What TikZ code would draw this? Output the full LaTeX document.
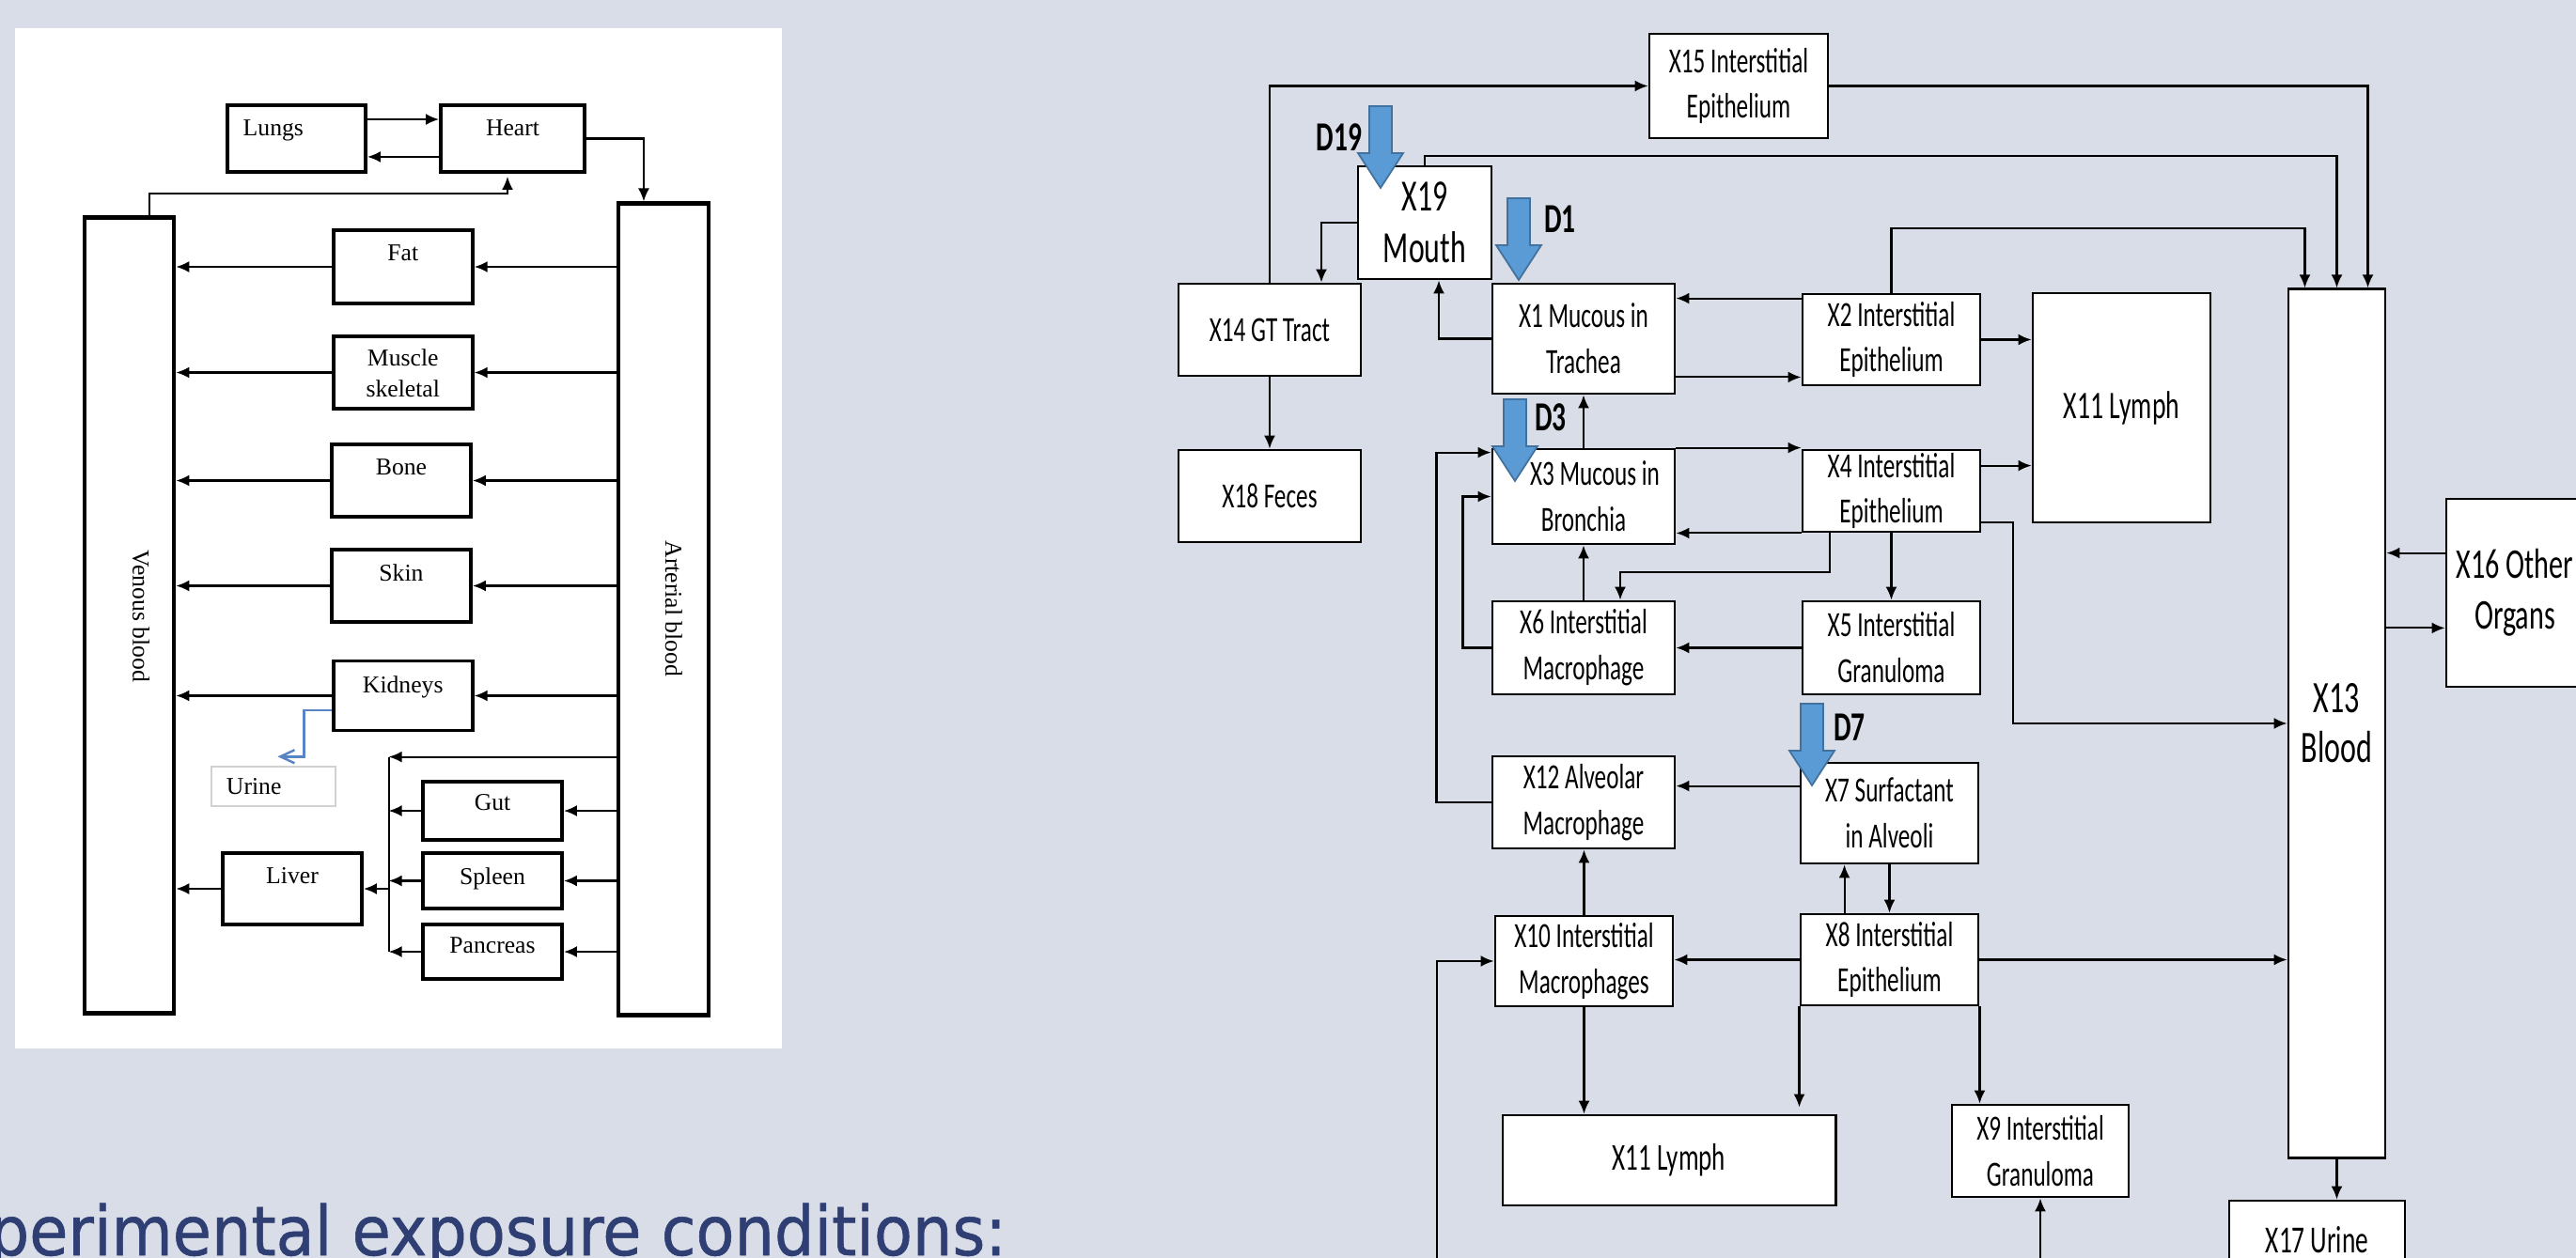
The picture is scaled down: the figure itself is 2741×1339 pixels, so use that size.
\documentclass[tikz,border=0pt]{standalone}
\usepackage{fontspec}
\usepackage{tikz}
\usetikzlibrary{arrows.meta,positioning}
\newfontfamily\boxfont[FakeStretch=0.67]{Carlito}
\newfontfamily\orgfont{Liberation Serif}
\newfontfamily\titlefont[FakeStretch=0.92,FakeBold=0.8]{DejaVu Sans}
\definecolor{slide}{RGB}{216,221,231}
\definecolor{dosefill}{RGB}{91,155,213}
\definecolor{doseline}{RGB}{65,113,156}
\definecolor{urineblue}{RGB}{88,132,196}
\definecolor{titleblue}{RGB}{47,63,115}

\begin{document}
\begin{tikzpicture}[x=0.01cm,y=-0.01cm]
\tikzstyle{comp}=[draw, fill=white, line width=0.8pt, inner sep=0pt, align=center, font=\boxfont\fontsize{10.7}{13.9}\selectfont]
\tikzstyle{organ}=[draw, fill=white, line width=1.1pt, minimum width=1.48cm, minimum height=0.77cm]
\tikzstyle{lbl}=[anchor=north, inner sep=0pt, yshift=-1.7mm, align=center, font=\orgfont\fontsize{7.3}{9.3}\selectfont]
\tikzstyle{arr}=[-{Latex[length=1.4mm,width=1.2mm]}, line width=0.6pt]
\tikzstyle{dose}=[fill=dosefill, draw=doseline, line width=0.5pt]
\tikzstyle{dlabel}=[inner sep=0pt, font=\boxfont\bfseries\fontsize{12.5}{14}\selectfont]

\fill[slide] (0,0) rectangle (2741,1339);
\useasboundingbox (0,0) rectangle (2741,1339);
\clip (0,0) rectangle (2741,1339);

% whole body model
\fill[white] (16,30) rectangle (832,1116);
\node[organ, minimum width=1.47cm, minimum height=0.71cm, label={[lbl, anchor=north west, xshift=1.8mm]north west:Lungs}] (lungs) at (315.5,147.5) {};
\node[organ, minimum width=1.53cm, minimum height=0.71cm, label={[lbl]north:Heart}] (heart) at (545.5,147.5) {};
\node[organ, minimum width=0.95cm, minimum height=8.46cm, line width=1.3pt] (ven) at (137.5,655) {};
\node[organ, minimum width=0.96cm, minimum height=8.63cm, line width=1.3pt] (art) at (706,648.5) {};
\node[rotate=-90, inner sep=0pt, font=\orgfont\fontsize{7.3}{9}\selectfont] (vent) at (150,656) {Venous blood};
\node[rotate=-90, inner sep=0pt, font=\orgfont\fontsize{7.3}{9}\selectfont] (artt) at (717,648) {Arterial blood};

\node[organ, minimum height=0.78cm, label={[lbl]north:Fat}] (fat) at (428.75,284) {};
\node[organ, label={[lbl, yshift=0.2mm]north:Muscle\\skeletal}] (muscle) at (428.75,396.5) {};
\node[organ, label={[lbl]north:Bone}] (bone) at (427,511.5) {};
\node[organ, label={[lbl]north:Skin}] (skin) at (427,623.5) {};
\node[organ, minimum height=0.74cm, label={[lbl]north:Kidneys}] (kidneys) at (428.75,740.5) {};
\node[organ, minimum height=0.62cm, label={[lbl, yshift=0.2mm]north:Gut}] (gut) at (524,863) {};
\node[organ, minimum height=0.59cm, label={[lbl]north:Spleen}] (spleen) at (524,937.5) {};
\node[organ, minimum height=0.58cm, label={[lbl, yshift=0.2mm]north:Pancreas}] (pancreas) at (524,1013) {};
\node[organ, minimum height=0.76cm, label={[lbl]north:Liver}] (liver) at (311,946) {};
\node[draw=black!18, fill=white, line width=0.4pt, minimum width=1.32cm, minimum height=0.42cm, label={[anchor=west, inner sep=0pt, xshift=1.6mm, font=\orgfont\fontsize{7.3}{9}\selectfont]west:Urine}] (urine) at (291,837) {};

\draw[arr] ([yshift=-1.7mm]lungs.north east) -- ([yshift=-1.7mm]lungs.north east -| heart.west);
\draw[arr] ([yshift=1.8mm]heart.south west) -- ([yshift=1.8mm]heart.south west -| lungs.east);
\draw[arr] (heart.east) -| ([xshift=-2.1mm]art.north);
\draw[arr] ([xshift=2.15mm]ven.north) -- ++(0,-23.4) -| ([xshift=-0.55mm,yshift=-0.3mm]heart.south);
\foreach \o in {fat,muscle,bone,skin,kidneys}{
  \draw[arr] (\o.east -| art.west) -- (\o.east);
  \draw[arr] (\o.west) -- (\o.west -| ven.east);
}
\coordinate (bus) at (413.6,805.6);
\draw[line width=0.6pt] (bus) -- (bus |- pancreas.west);
\draw[arr] (bus -| art.west) -- (bus);
\foreach \o in {gut,spleen,pancreas}{
  \draw[arr] (\o.east -| art.west) -- (\o.east);
  \draw[arr] (\o.west) -- (\o.west -| bus);
}
\draw[arr] (liver.east -| bus) -- (liver.east);
\draw[arr] (liver.west) -- (liver.west -| ven.east);
\draw[urineblue, line width=0.7pt, -{Straight Barb[length=1.5mm,width=1.4mm]}] ([yshift=2.35mm]kidneys.south west) -- ++(-29.5,0) |- ([xshift=0.45mm,yshift=1mm]urine.north);

% lung model
\node[comp, minimum width=1.90cm, minimum height=1.11cm] (15) at (1850,91.5) {X15 Interstitial\\Epithelium};
\node[comp, minimum width=1.42cm, minimum height=1.20cm, font=\boxfont\fontsize{13.5}{15.7}\selectfont] (19) at (1516,237) {X19\\Mouth};
\node[comp, minimum width=1.94cm, minimum height=0.98cm] (14) at (1351,351) {X14 GT Tract};
\node[comp, minimum width=1.94cm, minimum height=0.98cm] (18) at (1351,528) {X18 Feces};
\node[comp, minimum width=1.94cm, minimum height=1.17cm] (1) at (1685,360.5) {X1 Mucous in\\Trachea};
\node[comp, minimum width=1.89cm, minimum height=0.97cm] (2) at (2012.5,361.5) {X2 Interstitial\\Epithelium};
\node[comp, minimum width=1.94cm, minimum height=1.01cm] (3) at (1685,528.5) {\hspace*{2.4mm}X3 Mucous in\\Bronchia};
\node[comp, minimum width=1.89cm, minimum height=0.87cm] (4) at (2012.5,522.5) {X4 Interstitial\\Epithelium};
\node[comp, minimum width=1.94cm, minimum height=0.99cm] (6) at (1685,689.5) {X6 Interstitial\\Macrophage};
\node[comp, minimum width=1.89cm, minimum height=0.99cm] (5) at (2012.5,689.5) {X5 Interstitial\\Granuloma};
\node[comp, minimum width=1.94cm, minimum height=0.98cm] (12) at (1685,854) {X12 Alveolar\\Macrophage};
\node[comp, minimum width=1.89cm, minimum height=1.07cm] (7) at (2010.5,865.5) {X7 Surfactant\\in Alveoli};
\node[comp, minimum width=1.89cm, minimum height=0.96cm] (10) at (1685.5,1023) {X10 Interstitial\\Macrophages};
\node[comp, minimum width=1.89cm, minimum height=0.97cm] (8) at (2010.5,1021.5) {X8 Interstitial\\Epithelium};
\node[comp, minimum width=3.54cm, minimum height=0.96cm, font=\boxfont\fontsize{11.5}{13.9}\selectfont] (11b) at (1776,1235) {X11 Lymph};
\node[comp, minimum width=1.88cm, minimum height=0.98cm] (9) at (2171,1225) {X9 Interstitial\\Granuloma};
\node[comp, minimum width=1.89cm, minimum height=2.44cm, font=\boxfont\fontsize{11.8}{13.9}\selectfont] (11) at (2257.5,434) {X11 Lymph};
\node[comp, minimum width=1.03cm, minimum height=9.24cm, font=\boxfont\fontsize{13.6}{15}\selectfont] (13) at (2486.5,770) {X13\\Blood};
\node[comp, minimum width=1.46cm, minimum height=2.00cm, font=\boxfont\fontsize{12.8}{15.4}\selectfont] (16) at (2676,631) {X16 Other\\Organs};
\node[comp, minimum width=1.87cm, minimum height=0.84cm, font=\boxfont\fontsize{11.6}{13.9}\selectfont] (17) at (2465.5,1320) {X17 Urine};

\draw[arr] (14.north) |- (15.west);
\draw[arr] (15.east) -| ([xshift=3.3mm]13.north);
\draw[arr] (19.north) -- ++(0,-10) -| (13.north);
\draw[arr] (2.north) -- ++(0,-69) -| ([xshift=-3.4mm]13.north);
\draw[arr] (19.west) -| ([xshift=5.5mm]14.north);
\draw[arr] (1.west) -| ([xshift=1.5mm]19.south);
\draw[arr] ([yshift=-0.6mm]2.north west) -- ([yshift=-0.6mm]2.north west -| 1.east);
\draw[arr] ([yshift=1.9mm]1.south east) -- ([yshift=1.9mm]1.south east -| 2.west);
\draw[arr] (14.south) -- (18.north);
\draw[arr] (3.north) -- (1.south);
\draw[arr] (3.north east) -- (3.north east -| 4.west);
\draw[arr] (4.south west) -- (4.south west -| 3.east);
\draw[arr] (2.east) -- (2.east -| 11.west);
\draw[arr] ([yshift=-1.8mm]4.north east) -- ([yshift=-1.8mm]4.north east -| 11.west);
\draw[arr] ([yshift=1.1mm]4.south east) -- ++(33.5,0) |- (13.west);
\draw[arr] (4.south) -- (5.north);
\draw[arr] ([xshift=3.06mm]4.south west) -- ++(0,41.4) -| ([xshift=3.9mm]6.north);
\draw[arr] (6.north) -- (3.south);
\draw[arr] (5.west) -- (6.east);
\draw[arr] (6.west) -- ++(-30,0) |- (3.west);
\draw[arr] (12.west) -- ++(-58,0) |- ([yshift=-0.5mm]3.north west);
\draw[arr] ([yshift=-2.6mm]7.north west) -- ([yshift=-2.6mm]7.north west -| 12.east);
\draw[arr] (10.north) -- (10.north |- 12.south);
\draw[arr] ([xshift=4.8mm]8.north west) -- ([xshift=4.8mm]8.north west |- 7.south);
\draw[arr] (7.south) -- (7.south |- 8.north);
\draw[arr] (8.west) -- (8.west -| 10.east);
\coordinate (inA) at (1529,1345);
\coordinate (inB) at (2171,1345);
\draw[arr] (inA) |- (10.west);
\draw[arr] (inB) -- (9.south);
\draw[arr] (10.south) -- (10.south |- 11b.north);
\draw[arr, shorten >=0.7mm] (8.south west) -- (8.south west |- 11b.north);
\draw[arr] (8.south east) -- (8.south east |- 9.north);
\draw[arr] (8.east) -- (8.east -| 13.west);
\draw[arr] ([yshift=-5.9mm]16.north west) -- ([yshift=-5.9mm]16.north west -| 13.east);
\draw[arr] ([yshift=6.4mm]16.south west -| 13.east) -- ([yshift=6.4mm]16.south west);
\draw[arr] (13.south) -- (13.south |- 17.north);

% doses
\foreach \tx/\ty in {1469/200, 1616/298, 1612/512, 1928/836}
  \draw[dose] (\tx,\ty) ++(-12,-87) -- ++(24,0) -- ++(0,50) -- ++(12,0) -- ++(-24,37) -- ++(-24,-37) -- ++(12,0) -- cycle;
\node[dlabel] (d19) at (1425,146.5) {D19};
\node[dlabel] (d1) at (1660,233.5) {D1};
\node[dlabel] (d3) at (1650,444.5) {D3};
\node[dlabel] (d7) at (1968,774.5) {D7};

\node[anchor=base west, inner sep=0pt, text=titleblue, font=\titlefont\fontsize{20.7}{24}\selectfont] (title) at (-12,1336) {perimental exposure conditions:};
\end{tikzpicture}
\end{document}
